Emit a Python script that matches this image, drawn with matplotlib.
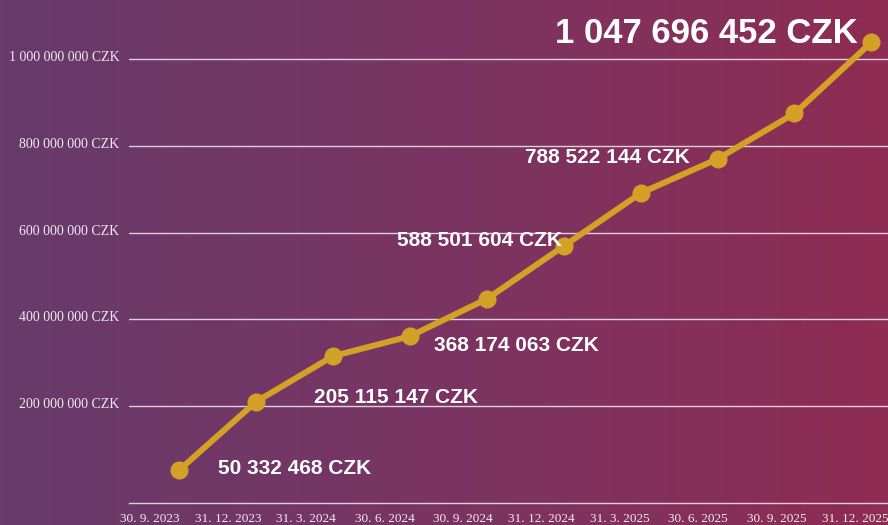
import numpy as np
import matplotlib
matplotlib.use("Agg")
import matplotlib.pyplot as plt
from matplotlib.colors import LinearSegmentedColormap
from matplotlib.ticker import FuncFormatter
import matplotlib.transforms as mtransforms

# data
dates = ["30. 9. 2023", "31. 12. 2023", "31. 3. 2024", "30. 6. 2024", "30. 9. 2024",
         "31. 12. 2024", "31. 3. 2025", "30. 6. 2025", "30. 9. 2025", "31. 12. 2025"]
values = [52.4e6, 210e6, 315e6, 361e6, 447e6, 569e6, 691e6, 770e6, 875e6, 1039e6]

# labelled points: index, text, offset (px) of text from point
label_idx = [0, 1, 3, 5, 7, 9]
label_txt = ["50 332 468 CZK", "205 115 147 CZK", "368 174 063 CZK",
             "588 501 604 CZK", "788 522 144 CZK", "1 047 696 452 CZK"]
label_off = [(115, -4), (140, -1), (106, -15), (-84, 0), (-110, -4), (-165, -1)]
label_size = [15, 15, 15, 15, 15, 25]

yticks = [200e6, 400e6, 600e6, 800e6, 1000e6]

fig = plt.figure(figsize=(8.88, 5.25), dpi=100)

# gradient background
bg = fig.add_axes([0, 0, 1, 1], zorder=0)
cmap = LinearSegmentedColormap.from_list("bg", ["#673b6b", "#7a3462", "#8f2c52"])
grad = np.linspace(0, 1, 256).reshape(1, -1)
bg.imshow(grad, aspect="auto", cmap=cmap, extent=[0, 1, 0, 1])
bg.axis("off")

ax = fig.add_axes([129 / 888, 22 / 525, 759 / 888, 503 / 525], zorder=1)
ax.patch.set_alpha(0)

x = np.arange(len(values))
ax.plot(x, values, color="#d3a126", lw=4.3, marker="o", ms=12,
        solid_capstyle="round", zorder=3)

ax.set_xlim(-0.654, 9.216)
ax.set_ylim(-23.8e6, 1136.6e6)

grid_c = "#ddd0dc"
ax.set_yticks(yticks)
ax.yaxis.set_major_formatter(FuncFormatter(
    lambda v, p: "{:,.0f} CZK".format(v).replace(",", " ")))
ax.grid(axis="y", color=grid_c, lw=1.0)
ax.set_axisbelow(True)

for s in ["top", "right", "left"]:
    ax.spines[s].set_visible(False)
ax.spines["bottom"].set_color(grid_c)
ax.spines["bottom"].set_linewidth(1.0)

ax.set_xticks([1.0195 * i - 0.388 for i in range(len(dates))])
ax.set_xticklabels(dates)
ax.tick_params(axis="both", length=0, colors="#f2eaf0")
ax.tick_params(axis="y", pad=7)
ax.tick_params(axis="x", pad=7)
for lab in ax.get_yticklabels() + ax.get_xticklabels():
    lab.set_fontfamily("Liberation Serif")
    lab.set_fontsize(10)
for lab in ax.get_xticklabels():
    lab.set_fontsize(9.5)
shift = mtransforms.ScaledTranslation(0, 3 / 100, fig.dpi_scale_trans)
for lab in ax.get_yticklabels():
    lab.set_transform(lab.get_transform() + shift)

for i, t, off, fs in zip(label_idx, label_txt, label_off, label_size):
    ax.annotate(t, xy=(x[i], values[i]), xytext=off, textcoords="offset pixels",
                ha="center", va="baseline", color="white", fontsize=fs,
                fontweight="bold", fontfamily="Liberation Sans", zorder=4)

fig.savefig("out.png", dpi=100)
